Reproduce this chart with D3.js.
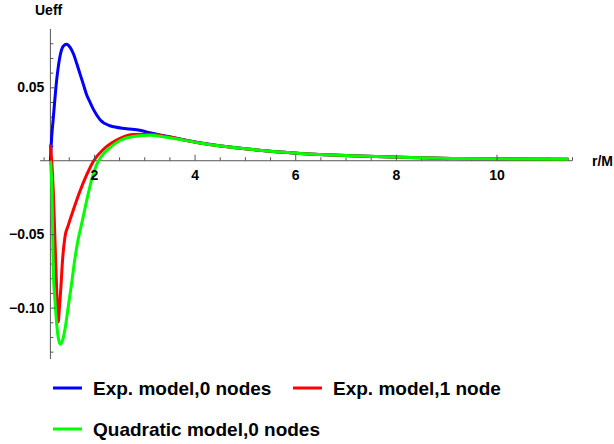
<!DOCTYPE html>
<html>
<head>
<meta charset="utf-8">
<script src="https://cdn.jsdelivr.net/npm/d3@7"></script>
<style>
  body { margin: 0; background: #fff; }
  text { font-family: "Liberation Sans", Arial, sans-serif; font-weight: bold; }
</style>
</head>
<body>
<div id="chart-area"></div>
<script>
// Datos (r/M, Ueff)
var rBlue = [1.135, 1.16, 1.19, 1.26, 1.325, 1.39, 1.458, 1.53, 1.59, 1.66, 1.72, 1.79, 1.855, 1.92, 1.99, 2.12, 2.32, 2.65, 2.91, 3.11, 3.44, 4.1, 5.1, 6.1, 7.1, 8.1, 9.1, 10, 11.43];
var uBlue = [0.0, 0.016, 0.028, 0.055, 0.071, 0.078, 0.0793, 0.077, 0.073, 0.066, 0.0595, 0.052, 0.045, 0.040, 0.035, 0.028, 0.0238, 0.0218, 0.0207, 0.019, 0.0167, 0.0122, 0.0078, 0.005, 0.0034, 0.0023, 0.0016, 0.0013, 0.001];

var rRed = [1.135, 1.17, 1.192, 1.226, 1.26, 1.29, 1.315, 1.34, 1.38, 1.424, 1.49, 1.59, 1.72, 1.855, 1.987, 2.18, 2.35, 2.52, 2.78, 3.11, 3.44, 4.1, 5.1, 6.1, 7.1, 8.1, 9.1, 10, 11.43];
var uRed = [0.011, -0.005, -0.02, -0.054, -0.088, -0.1097, -0.1, -0.088, -0.066, -0.052, -0.044, -0.0336, -0.021, -0.0097, -0.0005, 0.0075, 0.012, 0.0152, 0.0178, 0.018, 0.0165, 0.0121, 0.0078, 0.005, 0.0034, 0.0023, 0.0016, 0.0013, 0.001];

var rGreen = [1.135, 1.166, 1.192, 1.226, 1.26, 1.3, 1.339, 1.38, 1.424, 1.49, 1.557, 1.623, 1.69, 1.736, 1.788, 1.841, 1.907, 1.97, 2.05, 2.15, 2.32, 2.52, 2.78, 3.11, 3.44, 4.1, 5.1, 6.1, 7.1, 8.1, 9.1, 10, 11.43];
var uGreen = [0.0, -0.02, -0.0745, -0.095, -0.111, -0.122, -0.125, -0.122, -0.115, -0.0994, -0.0835, -0.0665, -0.053, -0.046, -0.038, -0.0295, -0.0195, -0.011, -0.003, 0.003, 0.009, 0.0138, 0.0165, 0.0173, 0.016, 0.0121, 0.0078, 0.005, 0.0034, 0.0023, 0.0016, 0.0013, 0.001];

var seriesNames = ["Exp. model,0 nodes", "Exp. model,1 node", "Quadratic model,0 nodes"];
var seriesColors = ["#0000ff", "#ff0000", "#00ff00"];

var xMajor = [2, 4, 6, 8, 10];
var xMinor = [1, 1.5, 2.5, 3, 3.5, 4.5, 5, 5.5, 6.5, 7, 7.5, 8.5, 9, 9.5, 10.5, 11, 11.5];
var yMajor = [-0.10, -0.05, 0.05];
var yMinor = [-0.13, -0.12, -0.11, -0.09, -0.08, -0.07, -0.06, -0.04, -0.03, -0.02, -0.01, 0.01, 0.02, 0.03, 0.04, 0.06, 0.07, 0.08];

var width = 614;
var height = 444;

var svg = d3.select("#chart-area").append("svg")
    .attr("width", width)
    .attr("height", height);

var x = d3.scaleLinear()
    .domain([1, 11.5])
    .range([43.6, 572]);

var y = d3.scaleLinear()
    .domain([-0.135, 0.0897])
    .range([359, 29]);

var axisColor = "#555";
var x0 = x(1.135);

// Lineas de los ejes
svg.append("line")
    .attr("x1", x(0.93)).attr("x2", x(11.5))
    .attr("y1", y(0)).attr("y2", y(0))
    .attr("stroke", axisColor);
svg.append("line")
    .attr("x1", x0).attr("x2", x0)
    .attr("y1", y.range()[0]).attr("y2", y.range()[1])
    .attr("stroke", axisColor);

// ticks menores (sin etiqueta)
svg.append("g")
    .attr("transform", "translate(0," + y(0) + ")")
    .call(d3.axisBottom(x).tickValues(xMinor).tickSizeInner(-3.5).tickSizeOuter(0).tickFormat(""));
svg.append("g")
    .attr("transform", "translate(" + x0 + ",0)")
    .call(d3.axisLeft(y).tickValues(yMinor).tickSizeInner(-3).tickSizeOuter(0).tickFormat(""));

// Curvas
var line = d3.line()
    .x(d => x(d[0]))
    .y(d => y(d[1]))
    .curve(d3.curveMonotoneX);

var series = [
    d3.zip(rBlue, uBlue),
    d3.zip(rRed, uRed),
    d3.zip(rGreen, uGreen)
];

series.forEach((s, i) => {
    svg.append("path")
        .datum(s)
        .attr("fill", "none")
        .attr("stroke", seriesColors[i])
        .attr("stroke-width", 3)
        .attr("stroke-linejoin", "round")
        .attr("d", line);
});

// ticks mayores con etiqueta, encima de las curvas
svg.append("g")
    .attr("transform", "translate(0," + y(0) + ")")
    .call(d3.axisBottom(x).tickValues(xMajor).tickSizeInner(-6).tickSizeOuter(0).tickPadding(9).tickFormat(d3.format("d")));
svg.append("g")
    .attr("transform", "translate(" + x0 + ",0)")
    .call(d3.axisLeft(y).tickValues(yMajor).tickSizeInner(-5).tickSizeOuter(0).tickPadding(6).tickFormat(d3.format(".2f")));

svg.selectAll(".domain").remove();
svg.selectAll(".tick line").attr("stroke", axisColor);
svg.selectAll(".tick text")
    .attr("fill", "#000")
    .attr("font-size", "14px")
    .attr("font-family", "Liberation Sans, Arial, sans-serif")
    .attr("font-weight", "bold");

// Titulos de los ejes
svg.append("text")
    .attr("x", 35)
    .attr("y", 15)
    .attr("font-size", "14px")
    .text("Ueff");
svg.append("text")
    .attr("x", 592)
    .attr("y", y(0) + 5)
    .attr("font-size", "14px")
    .text("r/M");

// Leyenda
var legendPos = [[53, 388], [293, 388], [53, 429]];
var legend = svg.selectAll(".legend")
    .data(seriesNames)
    .enter().append("g")
    .attr("class", "legend")
    .attr("transform", (d, i) => "translate(" + legendPos[i][0] + "," + legendPos[i][1] + ")");

legend.append("line")
    .attr("x1", 0).attr("x2", 29)
    .attr("stroke", (d, i) => seriesColors[i])
    .attr("stroke-width", 3);

legend.append("text")
    .attr("x", 40)
    .attr("y", 7)
    .attr("font-size", "19px")
    .attr("fill", "#000")
    .text(d => d);
</script>
</body>
</html>
